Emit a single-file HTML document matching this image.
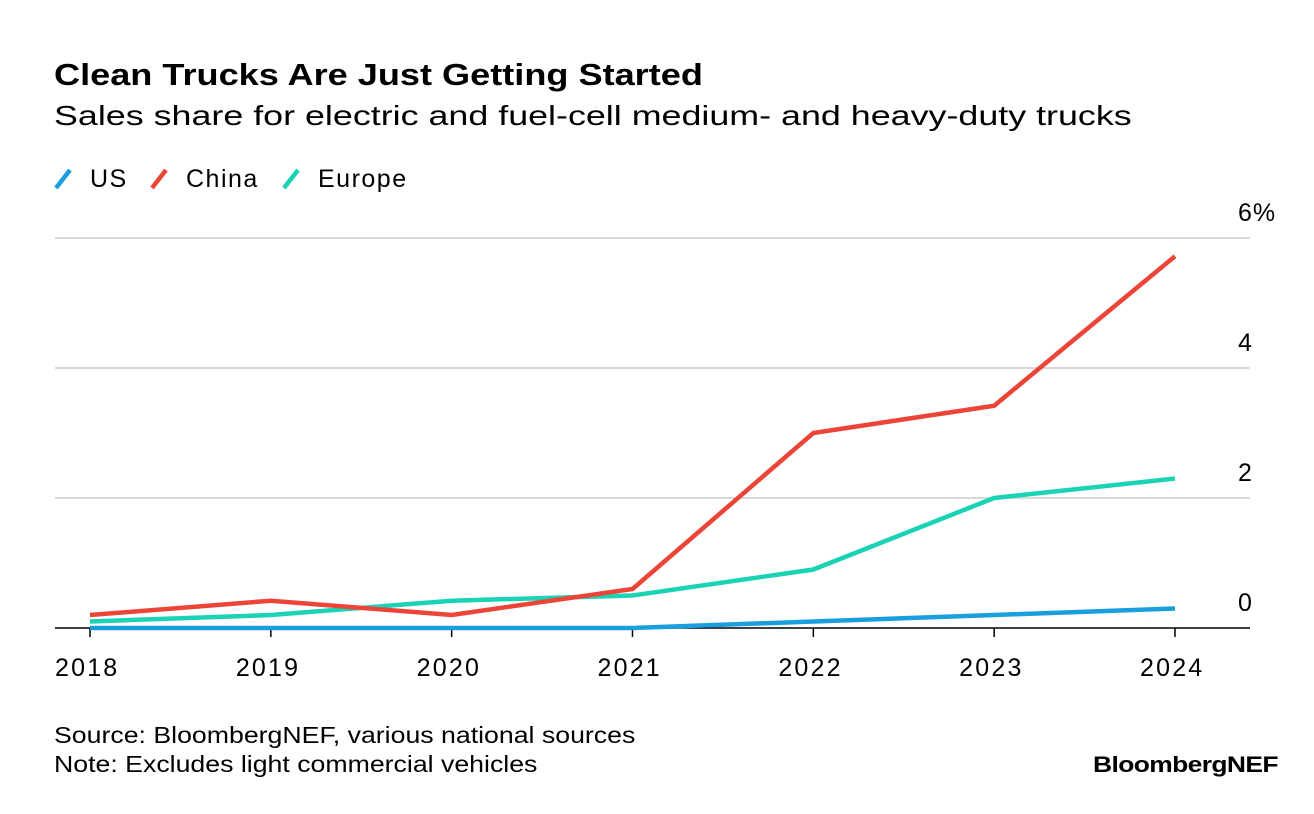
<!DOCTYPE html>
<html><head><meta charset="utf-8"><style>
body{margin:0;background:#fff;font-family:"Liberation Sans",sans-serif;}
#wrap{position:relative;width:1314px;height:814px;overflow:hidden;}
.t{position:absolute;white-space:nowrap;color:#000;transform-origin:0 0;}
</style></head><body>
<div id="wrap">
<div class="t" style="left:54px;top:57px;font-size:31px;font-weight:bold;transform:scaleX(1.165)">Clean Trucks Are Just Getting Started</div>
<div class="t" style="left:54px;top:100px;font-size:28px;transform:scaleX(1.28)">Sales share for electric and fuel-cell medium- and heavy-duty trucks</div>
<svg id="chart" width="1314" height="814" style="position:absolute;left:0;top:0"></svg>
<div class="t" style="left:54px;top:721px;font-size:23px;line-height:29px;transform:scaleX(1.16)">Source: BloombergNEF, various national sources<br>Note: Excludes light commercial vehicles</div>
<div class="t" style="left:1093px;top:752px;font-size:22px;font-weight:bold;letter-spacing:-0.5px;transform:scaleX(1.2)">BloombergNEF</div>
</div>
<script>
const years=['2018','2019','2020','2021','2022','2023','2024'];
const usValues=[0,0,0,0,0.1,0.2,0.3];
const chinaValues=[0.2,0.42,0.2,0.6,3.0,3.42,5.72];
const europeValues=[0.1,0.2,0.42,0.5,0.9,2.0,2.3];
const yTicks=[0,2,4,6];
const yTickLabels=['0','2','4','6%'];
const NS='http://www.w3.org/2000/svg';
const svg=document.getElementById('chart');
const x0=90,x1=1175,y0=628,yPer=65;
function xs(i){return x0+(x1-x0)*i/(years.length-1);}
function ys(v){return y0-v*yPer;}
function mk(tag,attrs){const e=document.createElementNS(NS,tag);for(const k in attrs)e.setAttribute(k,attrs[k]);svg.appendChild(e);return e;}
yTicks.forEach((v,i)=>{
  if(v!==0){const g=mk('line',{x1:55,x2:1250,y1:ys(v),y2:ys(v),stroke:'#d9d9d9','stroke-width':2});
  
  }
  const t=mk('text',{x:1238,y:ys(v)-17,'font-size':25,'letter-spacing':1,fill:'#000','font-family':'Liberation Sans, sans-serif'});
  t.textContent=yTickLabels[i];
  
  
});
const ax=mk('line',{x1:55,x2:1250,y1:y0,y2:y0,stroke:'#000','stroke-width':1.5});


years.forEach((yr,i)=>{
  const tk=mk('line',{x1:xs(i),x2:xs(i),y1:y0,y2:y0+9,stroke:'#000','stroke-width':1.5});
  
  
  const t=mk('text',{x:xs(i)-35,y:676,'font-size':25,'letter-spacing':2.2,fill:'#000','font-family':'Liberation Sans, sans-serif'});
  t.textContent=yr;
  
  
});
function series(vals,color,name){
  const p=mk('polyline',{points:vals.map((v,i)=>xs(i)+','+ys(v)).join(' '),fill:'none',stroke:color,'stroke-width':4.5,'stroke-linejoin':'miter'});
  
  
}
series(europeValues,'#19d3b4','europe-line');
series(usValues,'#1a9fde','us-line');
series(chinaValues,'#ec4538','china-line');
const legend=[['US','#1a9fde',56],['China','#ec4538',152],['Europe','#19d3b4',284]];
legend.forEach(l=>{
  const m=mk('line',{x1:l[2],y1:188,x2:l[2]+14,y2:170,stroke:l[1],'stroke-width':4.5});
  
  
  const t=mk('text',{x:l[2]+34,y:187,'font-size':25,'letter-spacing':1.5,fill:'#000','font-family':'Liberation Sans, sans-serif'});
  t.textContent=l[0];
  
  
});
</script>
</body></html>
